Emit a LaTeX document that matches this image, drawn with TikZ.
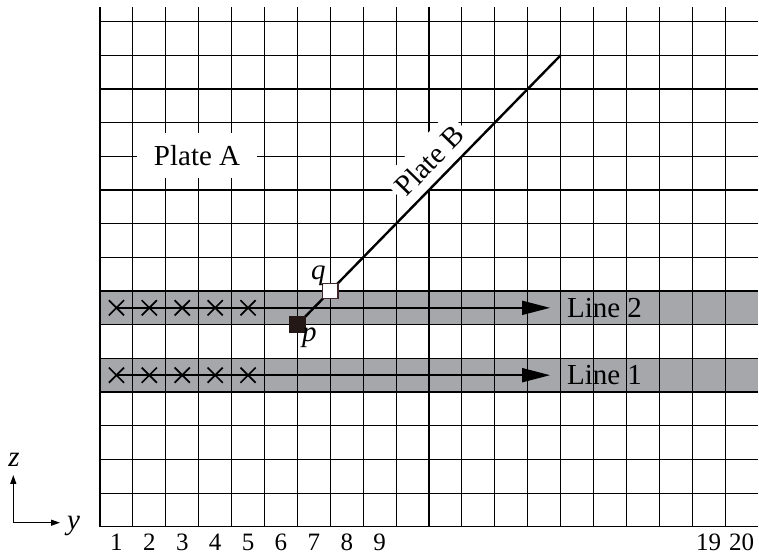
\documentclass[tikz,border=0pt]{standalone}
\usepackage{fontspec}
\setmainfont{Liberation Serif}
\usetikzlibrary{arrows.meta,shapes.misc}
\definecolor{band}{RGB}{166,167,171}
\definecolor{ink}{RGB}{35,24,21}
\definecolor{qedge}{RGB}{64,40,42}
\begin{document}
\begin{tikzpicture}[x=1pt,y=1pt,
  gridline/.style={line width=1.05pt, black},
  lbl/.style={font=\fontsize{29}{30}\selectfont, inner sep=0pt},
  num/.style={font=\fontsize{25}{26}\selectfont, inner sep=0pt},
  xmark/.style={cross out, draw=black, line width=1.7pt, minimum size=13.5pt, inner sep=0pt},
  flow/.style={line width=1.8pt, -{Triangle[length=28pt,width=14pt]}},
  plate/.style={line width=2.4pt, black},
  psq/.style={fill=ink, minimum size=16.5pt, inner sep=0pt},
  qsq/.style={fill=white, draw=qedge, line width=1.3pt, minimum size=15.5pt, inner sep=0pt},
  axisarrow/.style={line width=1.2pt, -{Triangle[length=9pt,width=6pt]}}
]
\useasboundingbox (0,0) rectangle (759,556);
\begin{scope}[shift={(100pt,29.3pt)}, x=32.9pt, y=33.67pt]
  % bands
  \fill[band] (0,4) rectangle (20,5);
  \fill[band] (0,6) rectangle (20,7);
  % grid
  \foreach \i in {0,...,19} \draw[gridline] (\i,0) -- (\i,15.43);
  \foreach \j in {0,...,15} \draw[gridline] (0,\j) -- (20,\j);
  % Plate A label
  \node[lbl, fill=white, minimum width=120pt, minimum height=45pt] (plateA) at (2.95,11.02) {Plate A};
  % Plate B
  \coordinate (pc) at (6,6);
  \coordinate (pb) at (14,14);
  \path (pc) -- (pb) node[pos=0.557, sloped, anchor=south, lbl, fill=white, inner xsep=5pt, inner ysep=10pt] (plateB) {Plate B};
  \draw[plate] (pc) -- (pb);
  % flow lines
  \coordinate (l1s) at (0.5,4.5);
  \coordinate (l1e) at (13.68,4.5);
  \coordinate (l2s) at (0.5,6.5);
  \coordinate (l2e) at (13.68,6.5);
  \draw[flow] (l1s) -- (l1e);
  \draw[flow] (l2s) -- (l2e);
  \node[lbl, anchor=west] (line1) at (14.19,4.5) {Line 1};
  \node[lbl, anchor=west] (line2) at (14.19,6.5) {Line 2};
  % crosses
  \foreach \k in {1,...,5} {
    \node[xmark] (xa\k) at (\k-0.5,4.5) {};
    \node[xmark] (xb\k) at (\k-0.5,6.5) {};
  }
  % points
  \node[psq] (p) at (pc) {};
  \node[qsq] (q) at (7,7) {};
  \node[lbl, xshift=-12pt, yshift=15pt] (qlbl) at (7,7) {\itshape q};
  \node[lbl, xshift=12pt, yshift=-13pt] (plbl) at (6,6) {\itshape p};
  % bottom numbers
  \foreach \n in {1,...,9,19,20}
    \node[num, yshift=-16pt] (n\n) at (\n-0.5,0) {\n};
\end{scope}
% axes
\coordinate (ax0) at (13.3,33.3);
\coordinate (axz) at (13.3,81);
\coordinate (axy) at (60,33.3);
\draw[axisarrow] (ax0) -- (axz);
\draw[axisarrow] (ax0) -- (axy);
\node[lbl] (zl) at (14,96) {\itshape z};
\node[lbl] (yl) at (73.5,30) {\itshape y};
\end{tikzpicture}
\end{document}
